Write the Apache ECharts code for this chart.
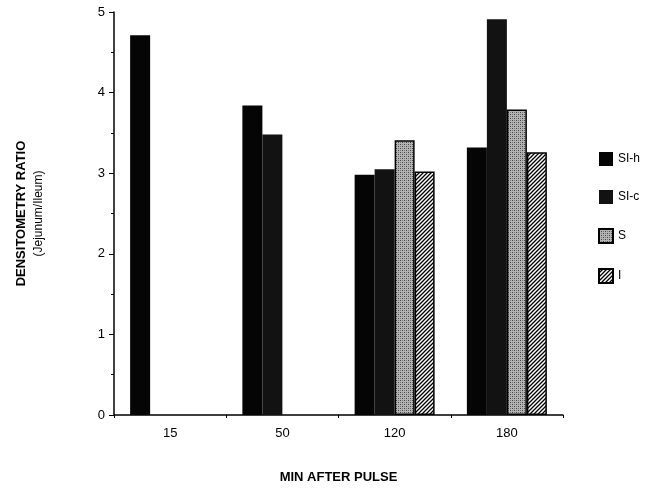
<!DOCTYPE html>
<html>
<head>
<meta charset="utf-8">
<script src="https://cdn.jsdelivr.net/npm/echarts@6/dist/echarts.min.js"></script>
<style>
  html, body { margin: 0; padding: 0; background: #fff; }
  #chart { width: 653px; height: 489px; }
</style>
</head>
<body>
<div id="chart"></div>
<script>
// data
const categories = ['15', '50', '120', '180'];
const seriesNames = ['SI-h', 'SI-c', 'S', 'I'];
const siH = [4.71, 3.84, 2.98, 3.32];
const siC = [null, 3.48, 3.05, 4.91];
const sVals = [null, null, 3.41, 3.79];
const iVals = [null, null, 3.02, 3.26];
const yTicks = [0, 1, 2, 3, 4, 5];

const FONT = 'Liberation Sans';

// grey stipple for S
function stipple() {
  let c = document.createElement('canvas');
  c.width = 4; c.height = 4;
  let ctx = c.getContext('2d');
  ctx.fillStyle = '#b4b4b4';
  ctx.fillRect(0, 0, 4, 4);
  ctx.fillStyle = '#444';
  ctx.fillRect(0, 0, 1, 1);
  ctx.fillRect(2, 2, 1, 1);
  ctx.fillStyle = '#777';
  ctx.fillRect(2, 0, 1, 1);
  ctx.fillRect(0, 2, 1, 1);
  return c;
}
// diagonal hatch for I
function hatch() {
  let c = document.createElement('canvas');
  c.width = 4; c.height = 4;
  let ctx = c.getContext('2d');
  ctx.fillStyle = '#fff';
  ctx.fillRect(0, 0, 4, 4);
  ctx.strokeStyle = '#000';
  ctx.lineWidth = 1.3;
  ctx.beginPath();
  ctx.moveTo(-1, 5); ctx.lineTo(5, -1);
  ctx.moveTo(-1, 1); ctx.lineTo(1, -1);
  ctx.moveTo(3, 5); ctx.lineTo(5, 3);
  ctx.stroke();
  return c;
}

const fills = [
  '#050505',
  '#121212',
  { image: stipple(), repeat: 'repeat' },
  { image: hatch(), repeat: 'repeat' }
];
const values = [siH, siC, sVals, iVals];

let myChart = echarts.init(document.getElementById('chart'));
myChart.setOption({
  animation: false,
  backgroundColor: '#fff',
  textStyle: { fontFamily: FONT },
  grid: { left: 114, right: 90, top: 12, bottom: 73 },
  legend: {
    orient: 'vertical',
    left: 593,
    top: 147,
    icon: 'rect',
    itemWidth: 14,
    itemHeight: 14,
    itemGap: 24,
    data: seriesNames,
    textStyle: { fontSize: 12, color: '#000', fontFamily: FONT }
  },
  xAxis: {
    type: 'category',
    data: categories,
    name: 'MIN AFTER PULSE',
    nameLocation: 'middle',
    nameGap: 56,
    nameTextStyle: { fontSize: 13, fontWeight: 'bold', color: '#000' },
    axisLine: { lineStyle: { color: '#000', width: 1.5 } },
    axisTick: { show: true, length: 3, lineStyle: { color: '#000' } },
    axisLabel: { color: '#000', fontSize: 13, margin: 12 }
  },
  yAxis: {
    type: 'value',
    min: yTicks[0],
    max: yTicks[yTicks.length - 1],
    interval: 1,
    name: '{a|DENSITOMETRY RATIO}\n{b|(Jejunum/Ileum)}',
    nameLocation: 'middle',
    nameRotate: 90,
    nameGap: 66,
    nameTextStyle: {
      color: '#000',
      rich: {
        a: { fontSize: 13, fontWeight: 'bold', lineHeight: 18 },
        b: { fontSize: 12, lineHeight: 18 }
      }
    },
    axisLine: { show: true, lineStyle: { color: '#000', width: 1.5 } },
    axisTick: { show: true, length: 5, lineStyle: { color: '#000' } },
    minorTick: { show: true, splitNumber: 2, length: 3, lineStyle: { color: '#000' } },
    splitLine: { show: false },
    axisLabel: { color: '#000', fontSize: 13, margin: 9 }
  },
  series: seriesNames.map((n, i) => ({
    name: n,
    type: 'bar',
    barWidth: 20,
    barGap: '0%',
    data: values[i],
    itemStyle: {
      color: fills[i],
      borderColor: '#000',
      borderWidth: i >= 2 ? 1.5 : 0
    }
  }))
});
</script>
</body>
</html>
